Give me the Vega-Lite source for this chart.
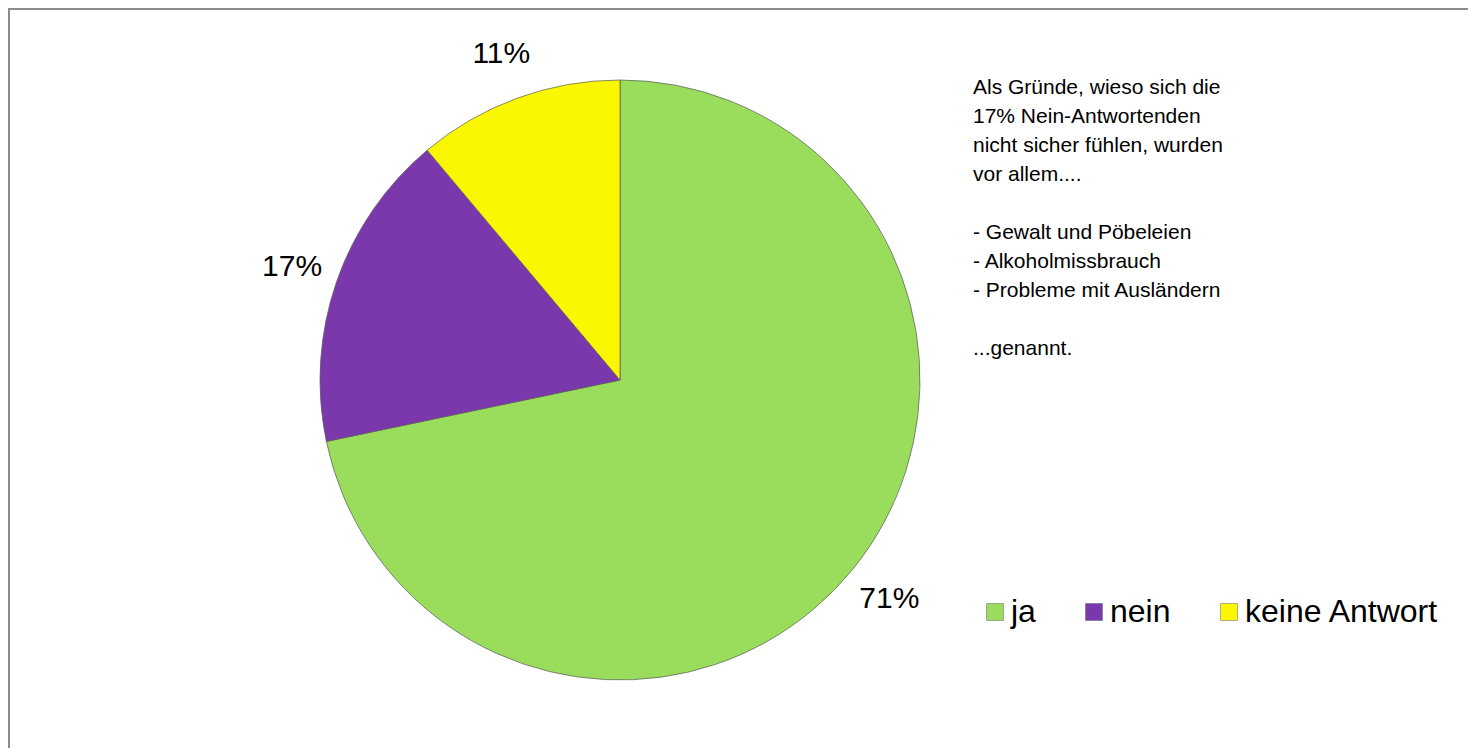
{
  "$schema": "https://vega.github.io/schema/vega-lite/v6.json",
  "width": 1470,
  "height": 750,
  "autosize": "none",
  "padding": {"left": 9, "top": 9, "right": 0, "bottom": 0},
  "background": "white",
  "config": {
    "view": {"stroke": null},
    "font": "Liberation Sans"
  },
  "title": {
    "text": [
      "Als Gründe, wieso sich die",
      "17% Nein-Antwortenden",
      "nicht sicher fühlen, wurden",
      "vor allem....",
      "\u2800",
      "- Gewalt und Pöbeleien",
      "- Alkoholmissbrauch",
      "- Probleme mit Ausländern",
      "\u2800",
      "...genannt."
    ],
    "orient": "none",
    "anchor": "start",
    "frame": "group",
    "align": "left",
    "baseline": "top",
    "offset": 0,
    "dx": 964,
    "dy": 68,
    "font": "Liberation Sans",
    "fontSize": 21,
    "fontWeight": "normal",
    "color": "#000000",
    "lineHeight": 29
  },
  "data": {
    "values": [
      {"answer": "ja", "share": 0.71, "rank": 1},
      {"answer": "nein", "share": 0.17, "rank": 2},
      {"answer": "keine Antwort", "share": 0.11, "rank": 3}
    ]
  },
  "layer": [
    {
      "data": {"values": [{}]},
      "mark": {
        "type": "rect",
        "fill": null,
        "stroke": "#8c8c8c",
        "strokeWidth": 2
      },
      "encoding": {}
    },
    {
      "mark": {
        "type": "arc",
        "outerRadius": 300,
        "x": 611,
        "y": 371,
        "stroke": "#5a5a5a",
        "strokeWidth": 1,
        "strokeOpacity": 0.7
      },
      "encoding": {
        "theta": {"field": "share", "type": "quantitative", "stack": true},
        "order": {"field": "rank", "type": "quantitative"},
        "color": {
          "field": "answer",
          "type": "nominal",
          "scale": {
            "domain": ["ja", "nein", "keine Antwort"],
            "range": ["#9ADC5C", "#7B38AC", "#FBF700"]
          },
          "legend": {
            "orient": "none",
            "legendX": 970,
            "legendY": 587,
            "direction": "horizontal",
            "title": null,
            "symbolType": "square",
            "symbolSize": 289,
            "symbolOpacity": 1,
            "symbolStrokeWidth": 0.5,
            "symbolStrokeColor": "#666666",
            "labelFont": "Liberation Sans",
            "labelFontSize": 32,
            "labelColor": "#000000",
            "labelLimit": 400,
            "labelOffset": 0,
            "columnPadding": 42,
            "padding": 0
          }
        }
      }
    },
    {
      "mark": {
        "type": "text",
        "radius": 347,
        "x": 611,
        "y": 371,
        "font": "Liberation Sans",
        "fontSize": 30,
        "color": "#000000"
      },
      "encoding": {
        "theta": {"field": "share", "type": "quantitative", "stack": true},
        "order": {"field": "rank", "type": "quantitative"},
        "text": {"field": "share", "type": "quantitative", "format": ".0%"}
      }
    }
  ]
}
